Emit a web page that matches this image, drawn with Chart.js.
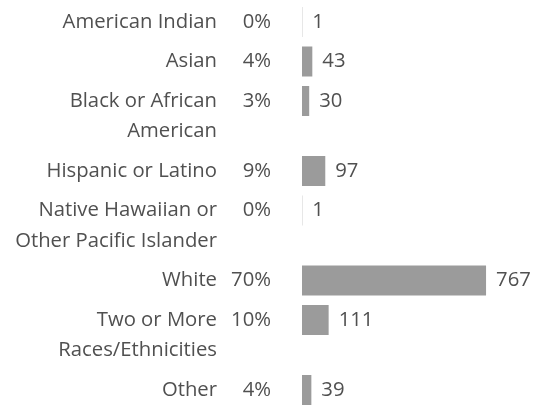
<!DOCTYPE html>
<html>
<head>
<meta charset="utf-8">
<script src="https://cdn.jsdelivr.net/npm/chart.js@4"></script>
<style>
  html, body { margin: 0; padding: 0; background: #fff; }
  #wrap { width: 535px; height: 405px; }
</style>
</head>
<body>
<div id="wrap"><canvas id="raceChart"></canvas></div>
<script>
// categories (multi-line ones as arrays)
const categories = [
    ['American Indian'],
    ['Asian'],
    ['Black or African', 'American'],
    ['Hispanic or Latino'],
    ['Native Hawaiian or', 'Other Pacific Islander'],
    ['White'],
    ['Two or More', 'Races/Ethnicities'],
    ['Other']
];
const percents = ['0%', '4%', '3%', '9%', '0%', '70%', '10%', '4%'];
const counts = [1, 43, 30, 97, 1, 767, 111, 39];

const textColor = '#505050';
const fontSpec = '20.3px "Open Sans", sans-serif';
const lineGap = 30.5;    // distance between label lines
const rowPitch = 39.5;   // single-line row

// row centres follow the label line counts
const rowPos = [];
let pos = 22;
categories.forEach(function (lines, i) {
    rowPos.push(pos);
    pos += rowPitch + lineGap * (lines.length - 1);
});

const labelsPlugin = {
    id: 'rowLabels',
    afterDatasetsDraw: function (chart) {
        const ctx = chart.ctx;
        const meta = chart.getDatasetMeta(0);
        ctx.save();
        ctx.font = fontSpec;
        ctx.fillStyle = textColor;
        ctx.textBaseline = 'middle';
        meta.data.forEach(function (bar, i) {
            const y = bar.y;
            ctx.textAlign = 'right';
            categories[i].forEach(function (line, k) {
                ctx.fillText(line, 217, y + k * lineGap);
            });
            ctx.fillText(percents[i], 271, y);
            ctx.textAlign = 'left';
            ctx.fillText(String(counts[i]), bar.x + 10, y);
        });
        ctx.restore();
    }
};

function drawRaceChart() {
    const ctx = document.getElementById('raceChart');

    new Chart(ctx, {
        type: 'bar',
        data: {
            datasets: [{
                data: counts.map(function (v, i) { return { x: v, y: rowPos[i] }; }),
                backgroundColor: '#9b9b9b',
                borderWidth: 0,
                inflateAmount: 0,
                barThickness: 30
            }]
        },
        options: {
            indexAxis: 'y',
            responsive: true,
            maintainAspectRatio: false,
            animation: false,
            layout: { padding: { left: 302, right: 0, top: 0, bottom: 0 } },
            plugins: {
                legend: { display: false },
                tooltip: { enabled: false }
            },
            scales: {
                x: { type: 'linear', min: 0, max: 971, display: false },
                y: { type: 'linear', min: 0, max: 405, reverse: true, offset: false, display: false }
            }
        },
        plugins: [labelsPlugin]
    });
}

drawRaceChart();
</script>
</body>
</html>
